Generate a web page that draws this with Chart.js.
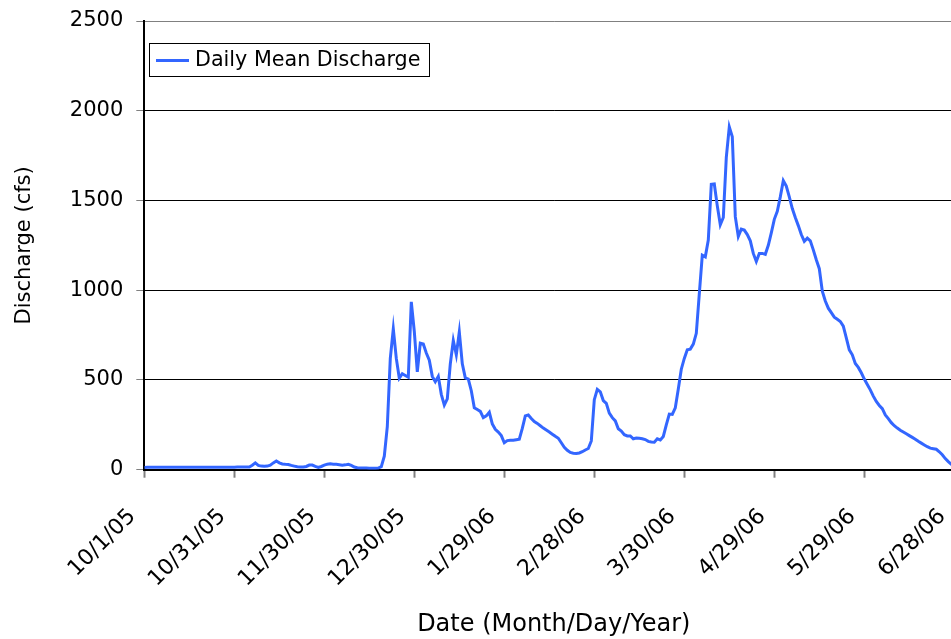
<!DOCTYPE html>
<html>
<head>
<meta charset="utf-8">
<script src="https://cdn.jsdelivr.net/npm/chart.js@4.4.0/dist/chart.umd.min.js"></script>
<style>
html, body { margin: 0; padding: 0; overflow: hidden; background: #fff; width: 951px; height: 639px; }
canvas { display: block; }
</style>
</head>
<body>
<canvas id="c" width="975" height="639"></canvas>
<script>
// Day offsets from 10/1/05 where category ticks are shown
const tickDays = [0, 30, 60, 90, 120, 150, 180, 210, 240, 270];
const tickLabels = ['10/1/05', '10/31/05', '11/30/05', '12/30/05', '1/29/06', '2/28/06', '3/30/06', '4/29/06', '5/29/06', '6/28/06'];
const yTicks = [0, 500, 1000, 1500, 2000, 2500];
const seriesName = 'Daily Mean Discharge';
// Daily mean discharge (cfs), one value per day starting 10/1/05
const discharge = [
  12, 13, 13, 13, 13, 13, 13, 13, 13, 13,
  13, 13, 13, 13, 13, 13, 13, 13, 13, 13,
  14, 14, 14, 14, 14, 14, 14, 14, 14, 14,
  14, 15, 15, 15, 15, 15, 25, 38, 24, 20,
  19, 20, 25, 38, 48, 38, 32, 30, 29, 24,
  20, 16, 15, 15, 18, 26, 26, 19, 13, 18,
  25, 31, 33, 31, 30, 28, 25, 27, 30, 24,
  15, 11, 10, 9, 9, 8, 8, 8, 9, 17,
  75, 240, 620, 785, 620, 510, 535, 525, 515, 935,
  770, 545, 705, 700, 650, 610, 520, 490, 520, 420,
  360, 395, 590, 720, 640, 768, 590, 512, 505, 440,
  345, 335, 325, 290, 300, 320, 255, 225, 210, 190,
  150, 162, 164, 164, 167, 170, 230, 300, 305, 285,
  268, 258, 245, 232, 221, 210, 198, 186, 175, 150,
  125, 108, 96, 92, 90, 93, 100, 110, 118, 160,
  390, 448, 434, 385, 370, 315, 290, 272, 228, 215,
  195, 188, 188, 172, 176, 175, 172, 168, 158, 154,
  153, 172, 166, 185, 250, 310, 308, 345, 450, 560,
  620, 668, 672, 700, 760, 980, 1195, 1186, 1280, 1590,
  1592, 1470, 1365, 1405, 1740, 1910, 1855, 1410, 1300, 1340,
  1335, 1310, 1275, 1205, 1160, 1205, 1205, 1200, 1250, 1320,
  1395, 1440, 1520, 1610, 1580, 1520, 1455, 1405, 1360, 1310,
  1272, 1290, 1275, 1225, 1170, 1120, 995, 940, 900, 875,
  850, 838, 826, 800, 735, 668, 640, 592, 570, 540,
  505, 475, 445, 410, 380, 358, 340, 305, 285, 262,
  245, 232, 220, 210, 200, 190, 180, 170, 158, 148,
  138, 128, 120, 117, 114, 100, 83, 62, 45, 30,
  20
];

const FONT = 'DejaVu Sans';
const lineColor = '#3366FF';

const legendBox = {
  id: 'legendBox',
  afterDraw(chart) {
    const ctx = chart.ctx;
    ctx.save();
    ctx.fillStyle = '#fff';
    ctx.fillRect(149.5, 43.5, 280, 33);
    ctx.strokeStyle = '#000';
    ctx.lineWidth = 1;
    ctx.strokeRect(149.5, 43.5, 280, 33);
    ctx.strokeStyle = lineColor;
    ctx.lineWidth = 3;
    ctx.beginPath();
    ctx.moveTo(156, 60.5);
    ctx.lineTo(189, 60.5);
    ctx.stroke();
    ctx.fillStyle = '#000';
    ctx.font = '20.7px "' + FONT + '"';
    ctx.textBaseline = 'middle';
    ctx.textAlign = 'left';
    ctx.fillText(chart.data.datasets[0].label, 195, 61);
    ctx.restore();
  }
};

new Chart(document.getElementById('c'), {
  type: 'line',
  data: {
    datasets: [{
      label: seriesName,
      data: discharge.map((v, i) => ({ x: i, y: v })),
      borderColor: lineColor,
      borderWidth: 3,
      pointRadius: 0,
      tension: 0,
      fill: false
    }]
  },
  options: {
    responsive: false,
    animation: false,
    devicePixelRatio: 1,
    layout: { padding: { top: 21, right: 11.7, left: 0, bottom: 0 } },
    plugins: { legend: { display: false }, tooltip: { enabled: false } },
    scales: {
      x: {
        type: 'linear',
        min: 0,
        max: 273,
        afterBuildTicks(scale) { scale.ticks = tickDays.map(v => ({ value: v })); },
        afterFit(scale) {
          scale.height = 169.3;
          scale.paddingRight = 0; scale.paddingLeft = 0;
          scale.paddingTop = 0; scale.paddingBottom = 0;
        },
        ticks: {
          callback(value) { const i = tickDays.indexOf(value); return i >= 0 ? tickLabels[i] : ''; },
          minRotation: 45,
          maxRotation: 45,
          padding: 26,
          labelOffset: -12,
          color: '#000',
          font: { family: FONT, size: 22 }
        },
        grid: {
          drawOnChartArea: false,
          drawTicks: true,
          tickLength: 8,
          tickColor: '#808080',
          tickWidth: 2
        },
        border: { display: true, color: '#000', width: 2 },
        title: {
          display: true,
          text: 'Date (Month/Day/Year)',
          color: '#000',
          font: { family: FONT, size: 24 },
          padding: { top: 0, bottom: 0 }
        }
      },
      y: {
        min: 0,
        max: 2500,
        afterBuildTicks(scale) { scale.ticks = yTicks.map(v => ({ value: v })); },
        afterFit(scale) {
          scale.width = 144.3;
          scale.paddingTop = 0; scale.paddingBottom = 0;
          scale.paddingLeft = 0; scale.paddingRight = 0;
        },
        ticks: {
          padding: 13,
          color: '#000',
          font: { family: FONT, size: 21 },
          callback(value) { return String(value); }
        },
        grid: {
          drawOnChartArea: true,
          drawTicks: true,
          tickLength: 8,
          color: (ctx) => (ctx.tick && (ctx.tick.value === 2500 || ctx.tick.value === 0)) ? '#808080' : '#000',
          tickColor: '#808080',
          lineWidth: 1
        },
        border: { display: true, color: '#000', width: 2 },
        title: {
          display: true,
          text: 'Discharge (cfs)',
          color: '#000',
          font: { family: FONT, size: 21 },
          padding: { top: 12, bottom: 0 }
        }
      }
    }
  },
  plugins: [legendBox]
});
</script>
</body>
</html>
